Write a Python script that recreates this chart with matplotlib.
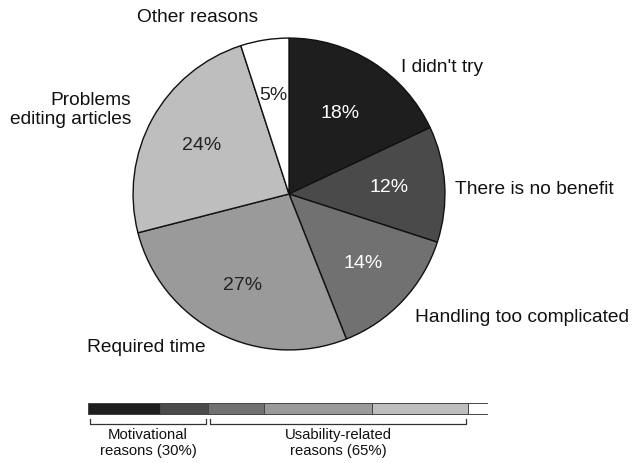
import matplotlib.pyplot as plt
import numpy as np

plt.rcParams['font.family'] = ['Liberation Sans', 'DejaVu Sans']

labels = ["I didn't try", "There is no benefit", "Handling too complicated",
          "Required time", "Problems\nediting articles", "Other reasons"]
values = [18, 12, 14, 27, 24, 5]
colors = ['#1e1e1e', '#4a4a4a', '#717171', '#9a9a9a', '#bebebe', '#ffffff']
pct_colors = ['white', 'white', 'white', '#222222', '#222222', '#222222']

groups = ["Motivational\nreasons (30%)", "Usability-related\nreasons (65%)"]
group_sizes = [2, 3]

W, H = 632, 463
fig = plt.figure(figsize=(W / 100, H / 100), dpi=100)

# pie, center ~ (289,194) px, radius ~157 px
cx, cy, r = 289, 194, 157.5
ax = fig.add_axes([(cx - r) / W, 1 - (cy + r) / H, 2 * r / W, 2 * r / H])
wedges, _ = ax.pie(values, colors=colors, startangle=90, counterclock=False,
                   radius=1, wedgeprops=dict(edgecolor='#111111', linewidth=1.0))
ax.set_xlim(-1.01, 1.01)
ax.set_ylim(-1.01, 1.01)
ax.set_aspect('equal')
ax.axis('off')

# percent labels
pct_r = [0.61, 0.64, 0.65, 0.66, 0.64, 0.64]
angle = 90.0
for v, rr, c in zip(values, pct_r, pct_colors):
    mid = np.deg2rad(angle - v * 3.6 / 2)
    angle -= v * 3.6
    ax.text(rr * np.cos(mid), rr * np.sin(mid), f"{v}%", ha='center',
            va='center', fontsize=14, color=c)

# outer labels (pixel positions)
outer = [(401, 68, 'left'), (455, 190, 'left'), (415, 317, 'left'),
         (146, 347, 'center'), (131, 110, 'right'), (198, 18, 'center')]
for lab, (x, y, ha) in zip(labels, outer):
    fig.text(x / W, 1 - y / H, lab, ha=ha, va='center', fontsize=13.8,
             color='#111111', linespacing=1.1, multialignment=ha)

# stacked bar with group brackets
bx = fig.add_axes([88 / W, 1 - 462 / H, 400 / W, 64 / H])
bx.set_xlim(0, 100)
bx.set_ylim(462, 398)
bx.axis('off')
left = np.concatenate([[0], np.cumsum(values)[:-1]])
bx.barh([408.5] * len(values), values, left=left, height=11, color=colors,
        edgecolor='#444444', linewidth=0.7)
cum = np.cumsum(values)
starts = [0, cum[group_sizes[0] - 1]]
ends = [cum[group_sizes[0] - 1], cum[group_sizes[0] + group_sizes[1] - 1]]
for g, s, e in zip(groups, starts, ends):
    s2, e2 = s + 0.5, e - 0.5
    bx.plot([s2, s2, e2, e2], [419, 424, 424, 419], color='#333333', lw=0.9)
    bx.text((s + e) / 2, 443, g, ha='center', va='center', fontsize=10.7,
            color='#111111', linespacing=1.15)

fig.savefig('out.png', dpi=100)
